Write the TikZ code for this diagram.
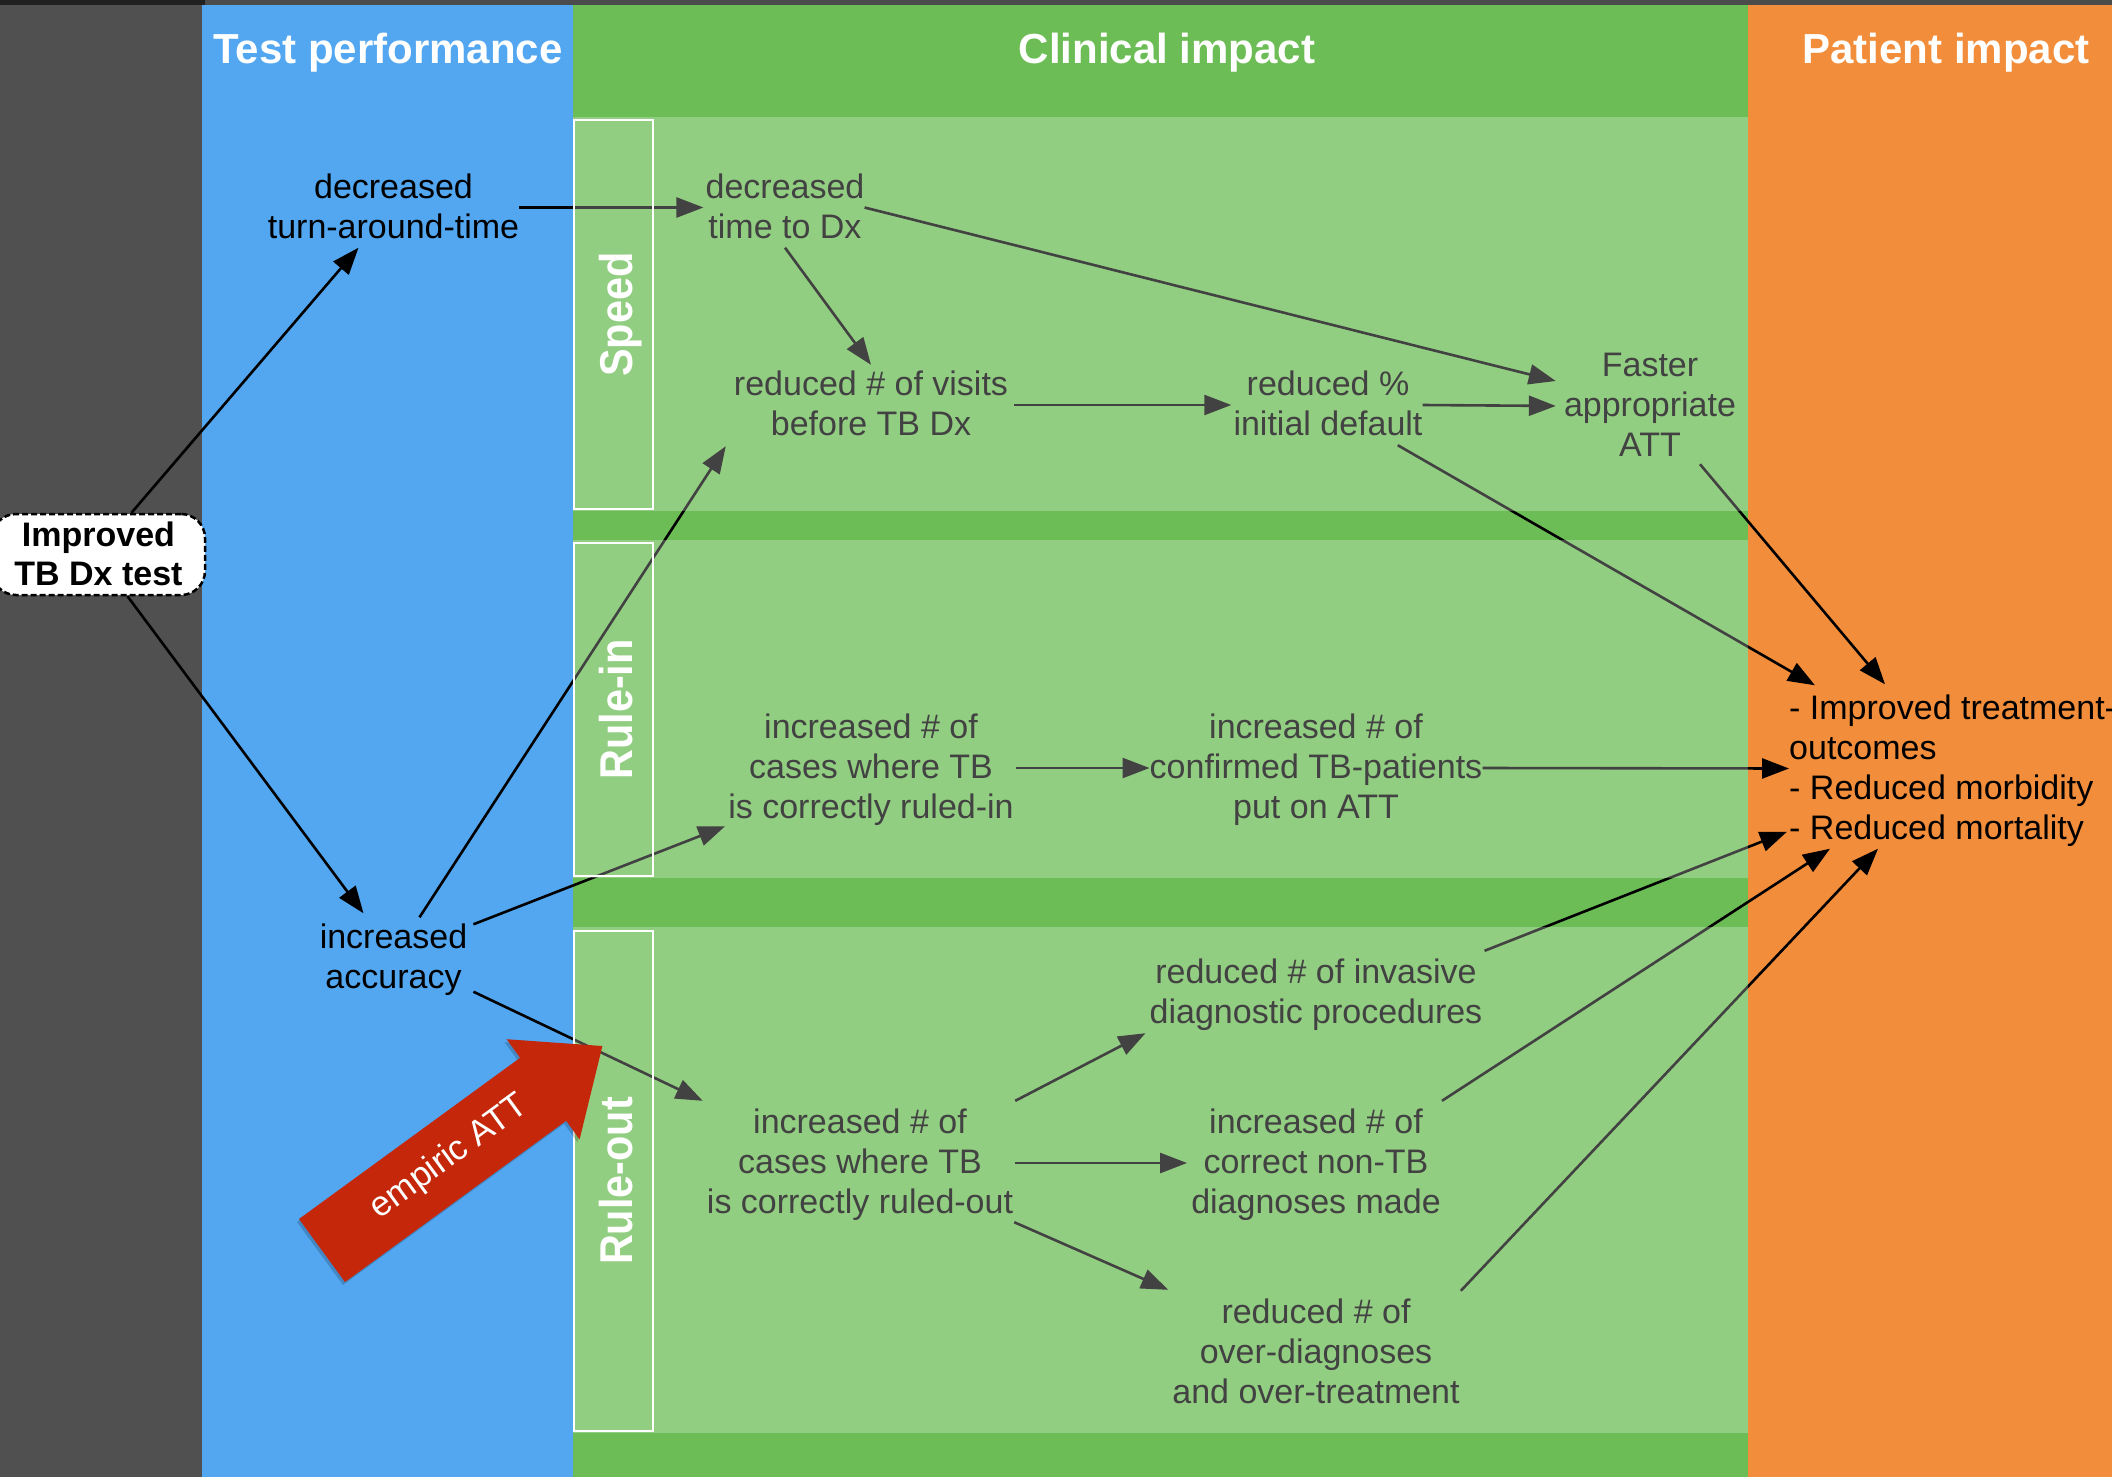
\documentclass[tikz,border=0pt]{standalone}
\usepackage{fontspec}
\setmainfont{Liberation Sans}
\newfontfamily\labfont[FakeStretch=0.9]{Liberation Sans}
\usetikzlibrary{arrows.meta,calc}
\definecolor{darkcol}{HTML}{505050}
\definecolor{topstrip}{HTML}{4B4B4B}
\definecolor{topdark}{HTML}{202020}
\definecolor{bluecol}{HTML}{52A7F0}
\definecolor{greencol}{HTML}{6DBD56}
\definecolor{orangecol}{HTML}{F28E3B}
\definecolor{redarrow}{HTML}{C4270A}
\newcommand\ls{\rule[-9.5pt]{0pt}{40pt}}
\newcommand\bs{\rule[-7.7pt]{0pt}{39pt}}
\begin{document}
\begin{tikzpicture}[x=1pt,y=-1pt,
  txt/.style={inner sep=0pt, align=center, font=\fontsize{34}{40}\selectfont, text=black},
  coltitle/.style={inner sep=0pt, anchor=base, text=white, font=\fontsize{42}{48}\selectfont\bfseries},
  lab/.style={inner sep=0pt, anchor=base, rotate=90, text=white, font=\labfont\bfseries\fontsize{46}{52}\selectfont},
  conn/.style={line width=2.6pt, draw=black, -{Triangle[length=27pt,width=20pt]}},
  panel/.style={fill=white, fill opacity=0.26},
  lbox/.style={draw=white, line width=2.5pt},
  startbox/.style={draw=black, fill=white, line width=2.5pt, dash pattern=on 6pt off 3pt,
    rounded corners=24pt, minimum width=213pt, minimum height=81pt, inner sep=0pt,
    align=center, font=\fontsize{34}{39}\selectfont\bfseries},
]
\useasboundingbox (0,0) rectangle (2112,1477);
% columns
\fill[darkcol] (0,0) rectangle (202,1477);
\fill[bluecol] (202,0) rectangle (573,1477);
\fill[greencol] (573,0) rectangle (1748,1477);
\fill[orangecol] (1748,0) rectangle (2112,1477);
\fill[topstrip] (0,0) rectangle (2112,5);
\fill[topdark] (0,0) rectangle (205,5);
% titles
\node[coltitle] (t1) at (388,63.5) {Test performance};
\node[coltitle] (t2) at (1167,63.5) {Clinical impact};
\node[coltitle] (t3) at (1946,63.5) {Patient impact};
% nodes
\node[startbox] (imp) at (98.5,554.5) {\bs Improved\\\bs TB Dx test};
\node[txt] (tat) at (393.5,207.5) {\ls decreased\\\ls turn-around-time};
\node[txt] (acc) at (393.5,957.5) {\ls increased\\\ls accuracy};
\node[txt] (ttd) at (785,207.5) {\ls decreased\\\ls time to Dx};
\node[txt] (vis) at (871,405) {\ls reduced \# of visits\\\ls before TB Dx};
\node[txt] (def) at (1328,405) {\ls reduced \%\\\ls initial default};
\node[txt] (fast) at (1650,406) {\ls Faster\\\ls appropriate\\\ls ATT};
\node[txt] (rin) at (871,768) {\ls increased \# of\\\ls cases where TB\\\ls is correctly ruled-in};
\node[txt] (conf) at (1316,768) {\ls increased \# of\\\ls confirmed TB-patients\\\ls put on ATT};
\node[txt, align=left, anchor=west] (out) at (1789,768.5) {\ls- Improved treatment-\\\ls outcomes\\\ls- Reduced morbidity\\\ls- Reduced mortality};
\node[txt] (rout) at (860,1163) {\ls increased \# of\\\ls cases where TB\\\ls is correctly ruled-out};
\node[txt] (inv) at (1316,993) {\ls reduced \# of invasive\\\ls diagnostic procedures};
\node[txt] (ntb) at (1316,1163) {\ls increased \# of\\\ls correct non-TB\\\ls diagnoses made};
\node[txt] (ovd) at (1316,1353) {\ls reduced \# of\\\ls over-diagnoses\\\ls and over-treatment};
% connectors
\draw[conn] ($(imp.north)+(33,0)$) -- ($(tat.south)+(-35,0)$);
\draw[conn] ($(imp.south)+(29,0)$) -- ($(acc.north)+(-30,-4)$);
\draw[conn, shorten >=2pt] (tat.east) -- (ttd.west);
\draw[conn] (ttd.east) -- ($(fast.west)+(-8,-25)$);
\draw[conn] (ttd.south) -- (vis.north);
\draw[conn, shorten <=6pt, shorten >=2pt] (vis.east) -- (def.west);
\draw[conn, shorten >=8pt] (def.east) -- (fast.west);
\draw[conn] ($(def.south east)+(-25,0)$) -- ($(out.north west)+(26,-3)$);
\draw[conn] ($(fast.south)+(50,-2)$) -- ($(out.north west)+(96,-4)$);
\draw[conn] ($(acc.north)+(26,0)$) -- ($(vis.south west)+(-8,1)$);
\draw[conn] ($(acc.north east)+(6,7)$) -- ($(rin.south west)+(-3,-2)$);
\draw[conn] ($(acc.south east)+(6,-6)$) -- ($(rout.north west)+(-4,-2)$);
\draw[conn, shorten <=2pt] (rin.east) -- (conf.west);
\draw[conn] (conf.east) -- (out.west);
\draw[conn] ($(rout.north east)+(2,-2)$) -- ($(inv.south west)+(-4,0)$);
\draw[conn, shorten <=2pt, shorten >=4pt] (rout.east) -- (ntb.west);
\draw[conn] ($(rout.south east)+(1,-1)$) -- ($(ovd.north west)+(-4,-3)$);
\draw[conn] ($(inv.north east)+(2,-2)$) -- ($(out.south west)+(-2,-17)$);
\draw[conn] ($(ntb.north east)+(1,-2)$) -- ($(out.south west)+(41,0)$);
\draw[conn] ($(ovd.north east)+(1,-2)$) -- ($(out.south west)+(89,0)$);
% light panels (translucent overlay)
\fill[panel] (573,117) rectangle (1748,511);
\fill[panel] (573,540) rectangle (1748,878);
\fill[panel] (573,927) rectangle (1748,1433);
% section boxes
\draw[lbox] (574,120) rectangle (653,509);
\draw[lbox] (574,543) rectangle (653,876);
\draw[lbox] (574,931) rectangle (653,1431);
\node[lab] (speed) at (632,314.5) {Speed};
\node[lab] (rulein) at (632,709.5) {Rule-in};
\node[lab] (ruleout) at (632,1181) {Rule-out};
% red arrow
\fill[black, opacity=0.18] (297,1222) -- (518.1,1060.8) -- (504.6,1042.2) -- (600.4,1049) -- (577.6,1142.4) -- (564.1,1123.8) -- (343,1285) -- cycle;
\fill[redarrow] (299,1219) -- (520.1,1057.8) -- (506.6,1039.2) -- (602.4,1046) -- (579.6,1139.4) -- (566.1,1120.8) -- (345,1282) -- cycle;
\node[inner sep=0pt, rotate=36.1, text=white, font=\fontsize{35}{42}\selectfont] (emp) at (449.7,1157.4) {empiric ATT};
\end{tikzpicture}
\end{document}
